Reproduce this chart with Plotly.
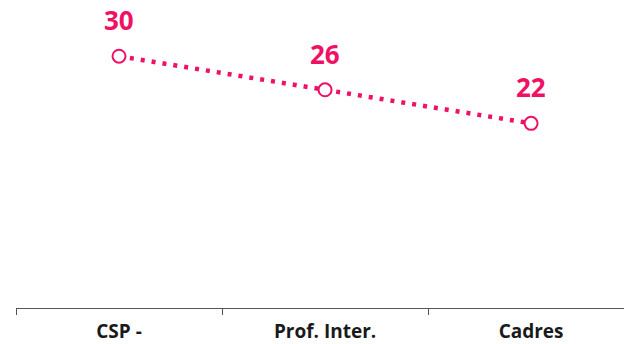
import plotly.graph_objects as go

categories = ["CSP -", "Prof. Inter.", "Cadres"]
values = [30, 26, 22]
labels = ["30", "26", "22"]

pink = "#EE1166"

fig = go.Figure()
fig.add_trace(go.Scatter(
    x=categories, y=values, mode="lines+markers",
    line=dict(color=pink, width=4.5, dash="4px,7px"),
    marker=dict(symbol="circle", size=13, color="white", line=dict(color=pink, width=2)),
    hoverinfo="skip",
))
for c, v, t in zip(categories, values, labels):
    fig.add_annotation(x=c, y=v, text="<b>%s</b>" % t, showarrow=False,
                       yanchor="bottom", yshift=16,
                       font=dict(family="Open Sans", size=26, color=pink))

fig.update_layout(
    width=624, height=344,
    margin=dict(l=16, r=0, t=0, b=36),
    paper_bgcolor="white", plot_bgcolor="white",
    showlegend=False,
    xaxis=dict(type="category", range=[-0.5, 2.451], tickson="boundaries",
               ticks="outside", ticklen=6, tickcolor="#555", showline=True,
               linecolor="#555", linewidth=1, showgrid=False, automargin=False,
               tickfont=dict(family="Open Sans", size=19, color="#1a1a1a"),
               ticklabelstandoff=6),
    yaxis=dict(range=[0, 36.7], visible=False, showgrid=False, zeroline=False,
               automargin=False),
)
fig.update_xaxes(tickprefix="<b>", ticksuffix="</b>")
fig.write_html("out.html", config={"displayModeBar": False},
               post_script="document.body.style.margin='0';document.body.style.overflow='hidden';")
